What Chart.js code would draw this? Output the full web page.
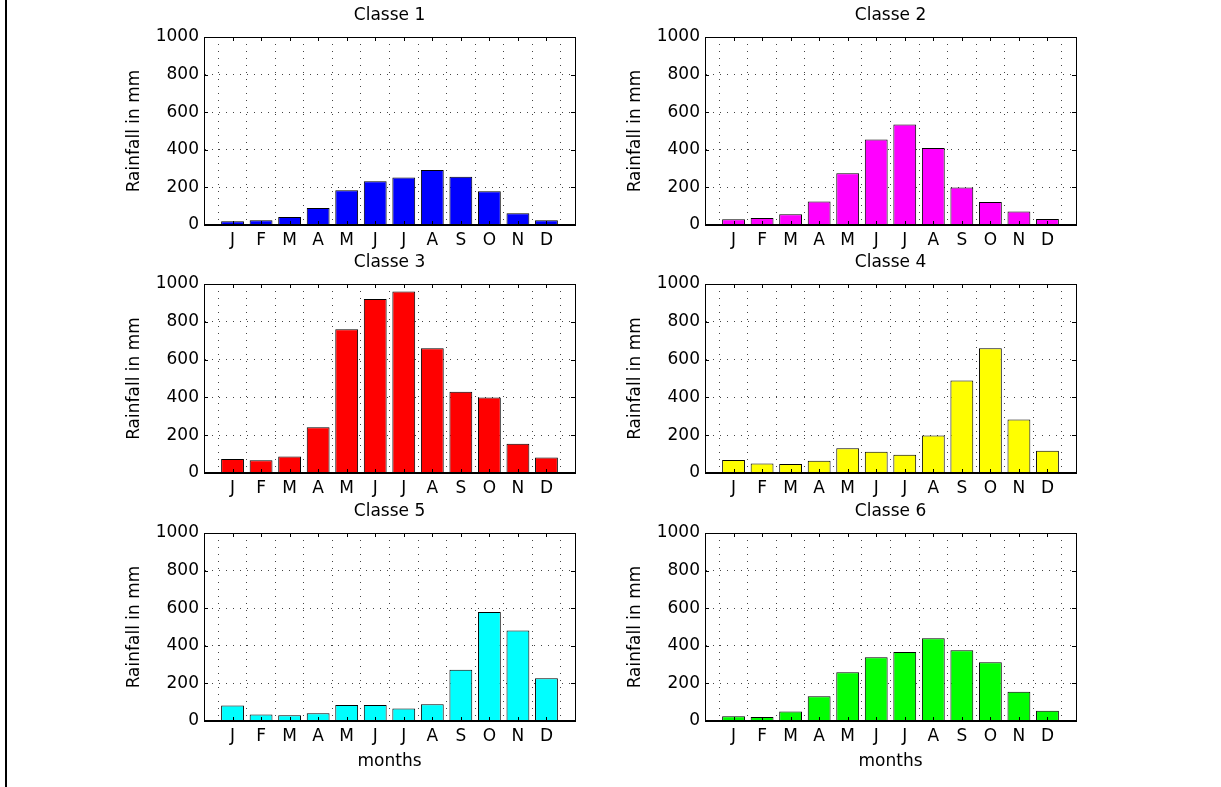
<!DOCTYPE html>
<html>
<head>
<meta charset="utf-8">
<script src="https://cdn.jsdelivr.net/npm/chart.js@4.4.1/dist/chart.umd.min.js"></script>
<style>
  html, body { margin: 0; padding: 0; background: #fff; }
  body { width: 1221px; height: 787px; position: relative; overflow: hidden; }
  #frame-left { position: absolute; left: 5px; top: 0; width: 2px; height: 787px; background: #000; }
  canvas { position: absolute; }
</style>
</head>
<body>
<div id="frame-left"></div>
<script>
// mois (etiquettes de l'axe x)
const months = ['J', 'F', 'M', 'A', 'M', 'J', 'J', 'A', 'S', 'O', 'N', 'D'];

// pluie mensuelle par classe, en mm
const classe1 = [20, 25, 42, 90, 185, 233, 252, 292, 257, 180, 62, 25];
const classe2 = [30, 37, 57, 125, 275, 455, 535, 410, 200, 122, 72, 32];
const classe3 = [74, 67, 87, 242, 760, 920, 960, 660, 430, 400, 155, 82];
const classe4 = [69, 50, 48, 65, 131, 113, 97, 198, 490, 660, 283, 118];
const classe5 = [83, 35, 30, 41, 85, 85, 67, 89, 273, 580, 482, 227];
const classe6 = [25, 21, 50, 131, 259, 339, 367, 440, 376, 312, 156, 55];

const titles = ['Classe 1', 'Classe 2', 'Classe 3', 'Classe 4', 'Classe 5', 'Classe 6'];
const series = [classe1, classe2, classe3, classe4, classe5, classe6];
const colors = ['#0000ff', '#ff00ff', '#ff0000', '#ffff00', '#00ffff', '#00ff00'];

const yTicks = [0, 200, 400, 600, 800, 1000];

// placement des zones de trace (comme subplot(3,2,k))
const colLeft = [204, 705];
const plotW = 371;
const rows = [[37, 225], [284, 473], [533, 721]];

const FONT = { family: '"DejaVu Sans", sans-serif', size: 17, lineHeight: 1.2 };

// cadre + petites graduations vers l'interieur
const boxPlugin = {
    id: 'box',
    afterDraw(chart) {
        const { ctx, chartArea: a, scales: { x, y } } = chart;
        ctx.save();
        ctx.strokeStyle = '#000';
        ctx.lineWidth = 1;
        ctx.beginPath();
        x.ticks.forEach(t => {
            const px = Math.round(x.getPixelForValue(t.value)) + 0.5;
            ctx.moveTo(px, a.bottom); ctx.lineTo(px, a.bottom - 4);
            ctx.moveTo(px, a.top); ctx.lineTo(px, a.top + 4);
        });
        y.ticks.forEach(t => {
            const py = Math.round(y.getPixelForValue(t.value)) + 0.5;
            ctx.moveTo(a.left, py); ctx.lineTo(a.left + 4, py);
            ctx.moveTo(a.right, py); ctx.lineTo(a.right - 4, py);
        });
        ctx.stroke();
        ctx.strokeRect(Math.round(a.left) + 0.5, Math.round(a.top) + 0.5,
            Math.round(a.right - a.left), Math.round(a.bottom - a.top));
        ctx.beginPath();
        ctx.lineWidth = 2;
        ctx.moveTo(a.left, Math.round(a.bottom));
        ctx.lineTo(a.right, Math.round(a.bottom));
        ctx.stroke();
        ctx.restore();
    }
};

function makePanel(k) {
    const col = k % 2;
    const row = Math.floor(k / 2);
    const [top, bottom] = rows[row];
    const plotH = bottom - top;
    const last = row === 2;
    const xH = last ? 60 : 30;

    const canvas = document.createElement('canvas');
    const w = 100 + plotW + 20;
    const h = 45 + plotH + xH;
    canvas.width = w;
    canvas.height = h;
    canvas.style.left = (colLeft[col] - 100) + 'px';
    canvas.style.top = (top - 45) + 'px';
    document.body.appendChild(canvas);

    new Chart(canvas.getContext('2d'), {
        type: 'bar',
        data: {
            datasets: [{
                data: series[k].map((v, i) => ({ x: i + 1, y: v })),
                backgroundColor: colors[k],
                borderColor: '#000',
                borderWidth: 1,
                borderSkipped: 'bottom',
                categoryPercentage: 1,
                barPercentage: 0.8
            }]
        },
        options: {
            responsive: false,
            animation: false,
            layout: { padding: { left: 0, right: 20, top: 0, bottom: 0 } },
            plugins: {
                legend: { display: false },
                tooltip: { enabled: false },
                title: {
                    display: true,
                    fullSize: false,
                    text: titles[k],
                    color: '#000',
                    font: { ...FONT, weight: 'normal' },
                    padding: { top: 13.8, bottom: 10.8 }
                }
            },
            scales: {
                x: {
                    type: 'linear',
                    min: 0,
                    max: 13,
                    offset: false,
                    afterFit: s => { s.height = xH; },
                    ticks: {
                        stepSize: 1,
                        autoSkip: false,
                        maxRotation: 0,
                        padding: 5,
                        color: '#000',
                        font: FONT,
                        callback: v => months[v - 1] || ''
                    },
                    grid: { color: '#444', drawTicks: false, lineWidth: 1 },
                    border: { display: true, color: '#000', width: 1, dash: [1, 6] },
                    title: {
                        display: last,
                        text: 'months',
                        color: '#000',
                        font: FONT,
                        padding: { top: 0, bottom: 8.8 }
                    }
                },
                y: {
                    min: 0,
                    max: 1000,
                    afterFit: s => { s.width = 100; },
                    afterBuildTicks: s => { s.ticks = yTicks.map(v => ({ value: v })); },
                    ticks: { padding: 5, color: '#000', font: FONT, callback: v => String(v) },
                    grid: { color: '#444', drawTicks: false, lineWidth: 1 },
                    border: { display: true, color: '#000', width: 1, dash: [1, 6] },
                    title: {
                        display: true,
                        text: 'Rainfall in mm',
                        color: '#000',
                        font: FONT,
                        padding: { top: 20.8, bottom: 0 }
                    }
                }
            }
        },
        plugins: [boxPlugin]
    });
}

for (let k = 0; k < 6; k++) makePanel(k);
</script>
</body>
</html>
